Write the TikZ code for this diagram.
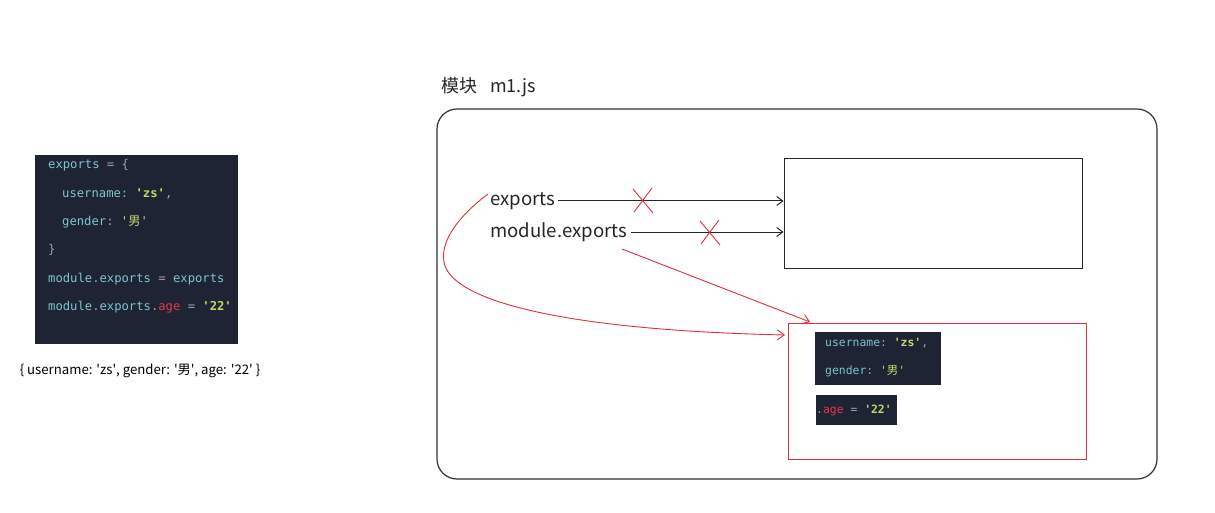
\documentclass[tikz,border=0pt]{standalone}
\usepackage{fontspec}
\setmainfont{Noto Sans CJK SC}
\newfontfamily\cjk{Noto Sans CJK SC}
\setmonofont{DejaVu Sans Mono}
\usetikzlibrary{arrows.meta}
\definecolor{codebg}{HTML}{1E2433}
\definecolor{cid}{HTML}{7EC4CF}
\definecolor{cstr}{HTML}{C3D86C}
\definecolor{cred}{HTML}{E8364F}
\definecolor{cop}{HTML}{9AA3AD}
\definecolor{lred}{HTML}{E0303A}
\tikzset{
  codeline/.style={anchor=west, inner sep=0pt, font=\ttfamily\fontsize{12.2}{14}\selectfont, text=cid},
  icodeline/.style={anchor=west, inner sep=0pt, font=\ttfamily\fontsize{11.4}{13}\selectfont, text=cid},
  lbl/.style={anchor=west, inner sep=0pt, font=\fontsize{18.6}{21}\selectfont, text=black!85},
  blk/.style={-{Straight Barb[length=6pt,width=9pt]}, line width=1pt, black!85},
  redarr/.style={-{Straight Barb[length=7pt,width=10pt]}, line width=0.9pt, lred},
  xmark/.style={lred, line width=0.9pt}
}
\newcommand{\zs}{\textcolor{cstr}{\textbf{'zs'}}}
\newcommand{\nan}{\textcolor{cstr}{'{\cjk 男}'}}
\newcommand{\sq}{\textquotesingle}
\begin{document}
\begin{tikzpicture}[x=1pt,y=-1pt]
\useasboundingbox[fill=white] (0,0) rectangle (1215,513);
% left code panel
\node[fill=codebg, inner sep=0pt, minimum width=203pt, minimum height=189pt, anchor=north west] (lcode) at (35,155) {};
\node[codeline] (c1) at (48,165) {exports \textcolor{cop}{= \{}};
\node[codeline] (c2) at (62,194) {username\textcolor{cop}{:} \zs\textcolor{cop}{,}};
\node[codeline] (c3) at (62,222) {gender\textcolor{cop}{:} \nan};
\node[codeline] (c4) at (48,250) {\textcolor{cop}{\}}};
\node[codeline] (c5) at (48,279) {module\textcolor{cop}{.}exports \textcolor{cop}{=} exports};
\node[codeline] (c6) at (48,307) {module\textcolor{cop}{.}exports\textcolor{cop}{.}\textcolor{cred}{age} \textcolor{cop}{=} \textcolor{cstr}{\textbf{'22'}}};
\node[inner sep=0pt, font=\fontsize{13.2}{15}\selectfont, text=black] (cap) at (140,371) {\{ username: \sq zs\sq, gender: \sq 男\sq, age: \sq 22\sq\ \}};
% title
\node[anchor=west, inner sep=0pt, font=\fontsize{18}{21}\selectfont, text=black!85] (title) at (441,87) {模块\hspace{13pt}m1.js};
% module box
\node[draw=black!80, line width=1.2pt, rounded corners=20pt, minimum width=720pt, minimum height=370pt, inner sep=0pt] (mod) at (797,294) {};
% objects
\node[draw=black!85, line width=0.9pt, minimum width=298pt, minimum height=110pt, inner sep=0pt] (objA) at (933,213) {};
\node[draw=lred, line width=1pt, minimum width=298pt, minimum height=136pt, inner sep=0pt] (objB) at (937,391) {};
% inner code boxes
\node[fill=codebg, inner sep=0pt, minimum width=126pt, minimum height=53pt, anchor=north west] (ib1) at (815,332) {};
\node[icodeline] (i1) at (825,343) {username\textcolor{cop}{:} \zs\textcolor{cop}{,}};
\node[icodeline] (i2) at (825,371) {gender\textcolor{cop}{:} \nan};
\node[fill=codebg, inner sep=0pt, minimum width=81pt, minimum height=30pt, anchor=north west] (ib2) at (816,395) {};
\node[icodeline] (i3) at (816,410) {\textcolor{cop}{.}\textcolor{cred}{age} \textcolor{cop}{=} \textcolor{cstr}{\textbf{'22'}}};
% labels
\node[lbl] (lexp) at (490,201) {exports};
\node[lbl] (lmod) at (490,232) {module.exports};
% black arrows
\draw[blk, shorten <=3pt] (lexp.east) -- (lexp.east -| objA.west);
\draw[blk, shorten <=4pt] (lmod.east) -- (lmod.east -| objA.west);
% crosses
\draw[xmark] (633,189) -- (653,213) (652,188) -- (634,212);
\draw[xmark] (700,221) -- (720,245) (719,220) -- (701,244);
% red arrows
\coordinate (rs) at (622,249);
\coordinate (re) at (810,322);
\draw[redarr] (rs) -- (re);
\coordinate (cs) at (488,194);
\coordinate (ce) at (785,335);
\draw[redarr] (cs) .. controls (460,215) and (440,240) .. (444,262) .. controls (450,300) and (560,330) .. (ce);
\end{tikzpicture}
\end{document}
